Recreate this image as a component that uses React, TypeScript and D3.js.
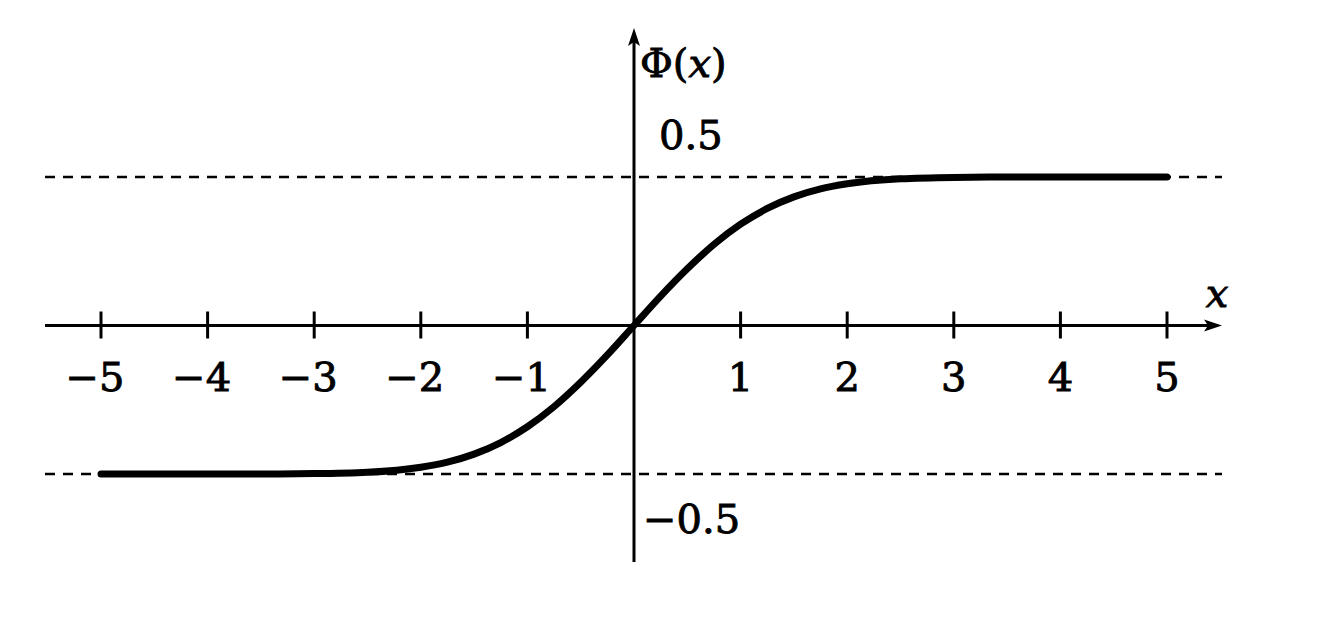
import React from 'react';
import * as d3 from 'd3';

// values
const xs = [-5, -4.5, -4, -3.5, -3, -2.5, -2, -1.75, -1.5, -1.25, -1, -0.75, -0.5, -0.25, 0,
  0.25, 0.5, 0.75, 1, 1.25, 1.5, 1.75, 2, 2.5, 3, 3.5, 4, 4.5, 5];
const phi = [-0.5, -0.5, -0.5, -0.4998, -0.4987, -0.494, -0.477, -0.46, -0.433, -0.394, -0.341, -0.273, -0.191, -0.099, 0,
  0.099, 0.191, 0.273, 0.341, 0.394, 0.433, 0.46, 0.477, 0.494, 0.4987, 0.4998, 0.5, 0.5, 0.5];
const xTicks = [-5, -4, -3, -2, -1, 1, 2, 3, 4, 5];
const asymptotes = [0.5, -0.5];
const yLabels = ['0.5', '\u22120.5'];

const W = 1333;
const H = 631;
const textStyle = {
  fontFamily: "'DejaVu Serif', serif",
  fontSize: 40,
  stroke: '#000',
  strokeWidth: 0.9,
};

const App = () => {
  const x = d3.scaleLinear().domain([-5, 5]).range([101, 1167]);
  const y = d3.scaleLinear().domain([-0.5, 0.5]).range([474, 177]);
  const x0 = x(0);
  const y0 = y(0);
  const left = 45;
  const right = 1222;

  const line = d3.line<number>()
    .x((d, i) => x(xs[i]))
    .y((d) => y(d))
    .curve(d3.curveMonotoneX);

  const fmt = (t: number) => (t < 0 ? '\u2212' + Math.abs(t) : String(t));

  return (
    <svg width={W} height={H} style={{ position: 'absolute', left: 0, top: 0, background: '#fff' }}>
      {/* asymptotes */}
      {asymptotes.map((a) => (
        <line key={a} x1={left} x2={right} y1={y(a)} y2={y(a)}
          stroke="#000" strokeWidth={2.5} strokeDasharray="10 8" />
      ))}
      {/* x axis */}
      <line x1={left} x2={right - 10} y1={y0} y2={y0} stroke="#000" strokeWidth={3} />
      <path d={`M${right},${y0} L${right - 18},${y0 - 6} L${right - 14},${y0} L${right - 18},${y0 + 6} Z`} fill="#000" />
      {/* y axis */}
      <line x1={x0} x2={x0} y1={562} y2={40} stroke="#000" strokeWidth={3} />
      <path d={`M${x0},28 L${x0 - 6},46 L${x0},42 L${x0 + 6},46 Z`} fill="#000" />
      {/* ticks */}
      {xTicks.map((t) => (
        <g key={t}>
          <line x1={x(t)} x2={x(t)} y1={y0 - 14} y2={y0 + 13} stroke="#000" strokeWidth={3} />
          <text x={x(t) + (t < 0 ? -6 : 0)} y={391} textAnchor="middle" style={textStyle}>
            {fmt(t)}
          </text>
        </g>
      ))}
      {/* curve */}
      <path d={line(phi) || ''} fill="none" stroke="#000" strokeWidth={7} strokeLinecap="round" />
      {/* labels */}
      <text x={640} y={77} style={textStyle}>
        {'\u03A6('}<tspan fontStyle="italic">x</tspan>{')'}
      </text>
      <text x={659} y={149} style={textStyle}>{yLabels[0]}</text>
      <text x={643} y={533} style={textStyle}>{yLabels[1]}</text>
      <text x={1217} y={307} textAnchor="middle" fontStyle="italic" style={textStyle}>x</text>
    </svg>
  );
};

export default App;
